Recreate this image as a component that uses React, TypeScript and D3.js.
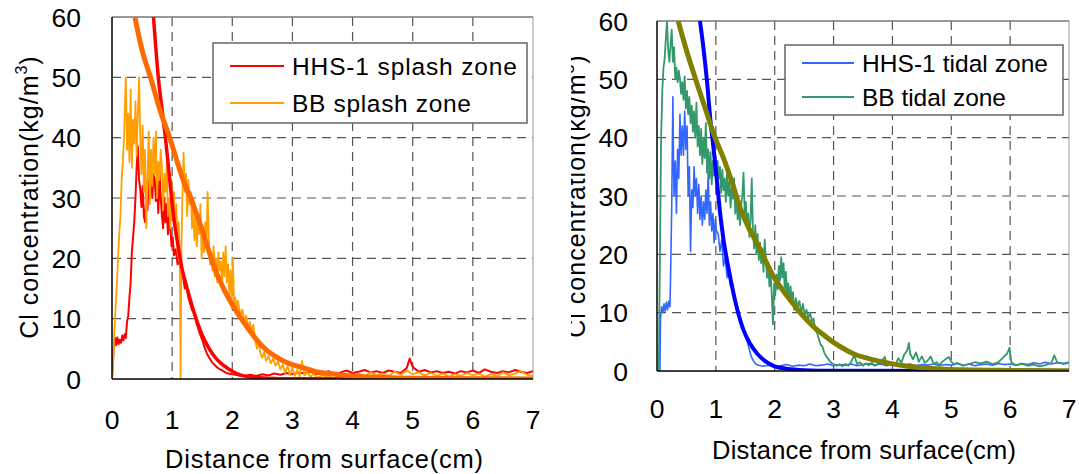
import React from 'react';
import * as d3 from 'd3';

type Pt = [number, number];

const xTicks = [0, 1, 2, 3, 4, 5, 6, 7];
const yTicks = [0, 10, 20, 30, 40, 50, 60];
const xTitle = 'Distance from surface(cm)';
const yTitle = 'Cl concentration(kg/m';

// splash zone (left)
const hhsSplash: Pt[] = [
  [0, 0], [0.03, 5.5], [0.05, 6.8], [0.07, 5.6], [0.09, 6.9], [0.11, 5.8], [0.13, 6.5], [0.15, 6.0], [0.17, 7.2],
  [0.19, 6.4], [0.21, 7.4], [0.23, 6.8], [0.25, 9.5], [0.27, 10.5], [0.29, 13.5], [0.31, 16], [0.33, 21], [0.35, 23.5],
  [0.37, 26], [0.39, 30], [0.41, 35], [0.43, 38.5], [0.45, 33], [0.47, 31.5], [0.49, 28.5], [0.51, 32], [0.53, 27],
  [0.55, 26], [0.57, 30], [0.59, 28], [0.61, 33], [0.63, 31], [0.65, 35.5], [0.67, 30], [0.69, 34], [0.71, 33],
  [0.73, 29.5], [0.75, 32], [0.77, 27.5], [0.79, 34.5], [0.81, 30], [0.83, 27], [0.85, 25], [0.87, 30], [0.89, 26],
  [0.91, 29], [0.93, 24], [0.95, 27], [0.97, 25], [0.99, 22], [1.01, 23.5], [1.03, 20.5], [1.06, 21.5], [1.09, 19],
  [1.12, 19.5], [1.15, 17.5], [1.18, 17], [1.21, 15], [1.24, 15.5], [1.27, 13.5], [1.3, 12.5], [1.33, 11.5],
  [1.36, 11], [1.4, 9.5], [1.43, 8.5], [1.46, 7.5], [1.5, 6.5], [1.54, 5.2], [1.58, 4.2], [1.62, 3.5], [1.66, 2.8],
  [1.7, 2.4], [1.75, 1.9], [1.8, 1.6], [1.85, 1.3], [1.9, 1.0], [2.0, 0.8], [2.1, 0.6], [2.2, 0.5], [2.3, 0.7],
  [2.4, 0.5], [2.5, 0.8], [2.6, 0.6], [2.7, 0.9], [2.8, 0.7], [2.9, 1.0], [3.0, 0.8], [3.1, 1.1], [3.2, 0.9],
  [3.3, 1.2], [3.4, 0.8], [3.5, 1.0], [3.6, 1.3], [3.7, 0.9], [3.8, 1.1], [3.9, 1.4], [4.0, 1.0], [4.1, 1.2],
  [4.2, 1.5], [4.3, 1.1], [4.4, 1.3], [4.5, 1.0], [4.6, 1.4], [4.7, 1.2], [4.8, 1.0], [4.9, 1.8], [4.95, 3.4],
  [5.0, 2.0], [5.05, 1.6], [5.1, 1.2], [5.2, 1.5], [5.3, 1.1], [5.4, 1.3], [5.5, 1.0], [5.6, 1.2], [5.7, 0.9],
  [5.8, 1.3], [5.9, 1.1], [6.0, 1.4], [6.1, 1.0], [6.2, 1.6], [6.3, 1.2], [6.4, 1.0], [6.5, 1.3], [6.6, 1.1],
  [6.7, 1.5], [6.8, 1.2], [6.9, 1.0], [7.0, 1.3],
];
const hhsSplashFit: Pt[] = [
  [0.69, 60], [0.77, 50], [0.84, 44], [0.91, 38], [0.97, 32], [1.03, 26.5], [1.1, 22], [1.16, 18.5], [1.25, 15],
  [1.35, 11.5], [1.49, 7.5], [1.6, 5.3], [1.74, 3.3], [1.85, 2.3], [2.0, 1.3], [2.13, 0.7], [2.3, 0.35], [2.6, 0.12],
  [3.0, 0.03], [7.0, 0],
];
const bbSplash: Pt[] = [
  [0, 0], [0.02, 3], [0.04, 8], [0.06, 12], [0.08, 15.5], [0.1, 20], [0.12, 24], [0.14, 27], [0.16, 33], [0.18, 36],
  [0.2, 40], [0.22, 47], [0.23, 50], [0.25, 38], [0.27, 44], [0.29, 36], [0.31, 48], [0.33, 35], [0.35, 43],
  [0.37, 39], [0.39, 46], [0.41, 37], [0.43, 44], [0.45, 50], [0.47, 40], [0.49, 34], [0.51, 42], [0.53, 31],
  [0.55, 38], [0.57, 25], [0.59, 33], [0.61, 41], [0.63, 29], [0.65, 38], [0.67, 32], [0.69, 40], [0.71, 34],
  [0.73, 41], [0.75, 30], [0.77, 36], [0.79, 33], [0.81, 38], [0.83, 35], [0.85, 28], [0.87, 34], [0.89, 31],
  [0.91, 36], [0.93, 27], [0.95, 30], [0.97, 25], [0.99, 33], [1.01, 28], [1.03, 31], [1.05, 24], [1.07, 29],
  [1.09, 21], [1.11, 26], [1.13, 18], [1.14, 0], [1.155, 22], [1.17, 30], [1.19, 37.5], [1.21, 31], [1.23, 34],
  [1.25, 27], [1.27, 33], [1.29, 29], [1.31, 31], [1.33, 25], [1.35, 28], [1.37, 23], [1.39, 27], [1.41, 22],
  [1.43, 26], [1.45, 24], [1.47, 29], [1.49, 20], [1.51, 24], [1.53, 21], [1.55, 26], [1.57, 22], [1.59, 31],
  [1.61, 23], [1.63, 19], [1.65, 21], [1.67, 18], [1.69, 22], [1.71, 17], [1.73, 20], [1.75, 16], [1.77, 21],
  [1.79, 18], [1.81, 19.5], [1.83, 15], [1.85, 21], [1.87, 17], [1.89, 22], [1.91, 16], [1.93, 19], [1.95, 14],
  [1.97, 18], [1.99, 13], [2.01, 20], [2.03, 12], [2.05, 13.5], [2.07, 11], [2.09, 13], [2.11, 12], [2.14, 10.5],
  [2.17, 11.5], [2.2, 9.5], [2.23, 10.5], [2.26, 8.5], [2.29, 9.5], [2.32, 8], [2.35, 9], [2.38, 6.5], [2.41, 5],
  [2.44, 6], [2.47, 4.2], [2.5, 3.5], [2.53, 4.5], [2.56, 3.0], [2.6, 3.8], [2.64, 2.6], [2.68, 3.4], [2.72, 2.2],
  [2.76, 2.9], [2.8, 1.6], [2.84, 2.4], [2.88, 1.0], [2.92, 2.2], [2.96, 0.6], [3.0, 1.8], [3.04, 0.5], [3.08, 1.5],
  [3.12, 0.4], [3.16, 3.0], [3.2, 0.6], [3.25, 1.2], [3.3, 0.3], [3.35, 0.9], [3.4, 0.2], [3.5, 0.6], [3.6, 0.3],
  [3.7, 0.8], [3.8, 0.4], [3.9, 0.7], [4.0, 0.3], [4.1, 0.9], [4.2, 0.5], [4.3, 1.1], [4.4, 0.6], [4.5, 0.9],
  [4.6, 0.5], [4.7, 1.2], [4.8, 0.7], [4.9, 1.4], [5.0, 0.8], [5.1, 1.1], [5.2, 0.6], [5.3, 1.0], [5.4, 0.5],
  [5.5, 0.9], [5.6, 0.4], [5.7, 0.8], [5.8, 0.5], [5.9, 1.0], [6.0, 0.6], [6.1, 0.9], [6.2, 0.4], [6.3, 0.8],
  [6.4, 0.5], [6.5, 1.1], [6.6, 0.6], [6.7, 0.9], [6.8, 1.3], [6.9, 0.7], [7.0, 0.5],
];
const bbSplashFit: Pt[] = [
  [0.38, 60], [0.5, 54.5], [0.64, 50], [0.8, 44.5], [0.96, 40], [1.1, 35.5], [1.2, 32.5], [1.31, 30], [1.4, 27.5],
  [1.49, 25], [1.6, 21.5], [1.74, 17.5], [1.88, 14.5], [2.02, 12], [2.15, 10], [2.29, 8], [2.43, 6.2], [2.57, 4.8],
  [2.71, 3.8], [2.85, 3.0], [3.0, 2.4], [3.13, 2.0], [3.4, 1.2], [3.62, 0.9], [4.0, 0.5], [4.5, 0.25], [5.0, 0.12],
  [6.0, 0.05], [7.0, 0.02],
];

// tidal zone (right)
const hhsTidal: Pt[] = [
  [0, 0], [0.05, 0], [0.06, 9], [0.08, 11], [0.1, 10], [0.12, 11.5], [0.14, 10.2], [0.16, 11.8], [0.18, 10.5],
  [0.2, 12], [0.22, 11], [0.23, 16], [0.25, 28], [0.26, 38], [0.27, 47], [0.28, 36], [0.29, 30], [0.31, 36],
  [0.33, 27], [0.35, 38], [0.37, 33], [0.39, 44], [0.41, 37], [0.43, 42], [0.45, 37], [0.47, 44.5], [0.49, 38],
  [0.51, 42], [0.53, 30], [0.55, 35], [0.57, 20.5], [0.59, 31], [0.61, 28], [0.63, 35], [0.65, 30], [0.67, 33],
  [0.69, 27], [0.71, 32], [0.73, 26], [0.75, 30], [0.77, 25], [0.79, 29], [0.81, 26], [0.83, 31], [0.85, 27],
  [0.87, 34], [0.89, 25], [0.91, 29], [0.93, 24], [0.95, 27], [0.97, 22], [0.99, 26], [1.01, 24], [1.04, 23.5],
  [1.07, 20.5], [1.1, 22.5], [1.13, 18], [1.16, 19.5], [1.19, 16], [1.22, 17.5], [1.25, 14.5], [1.28, 15],
  [1.31, 13], [1.34, 11.5], [1.37, 11], [1.4, 9.5], [1.44, 8], [1.48, 6.5], [1.52, 5.5], [1.56, 4], [1.6, 2.5],
  [1.64, 1.7], [1.68, 1.2], [1.72, 1.0], [1.8, 0.8], [1.9, 1.0], [2.0, 0.7], [2.1, 0.9], [2.2, 1.1], [2.3, 0.8],
  [2.4, 1.0], [2.5, 0.9], [2.6, 1.2], [2.7, 0.9], [2.8, 1.0], [2.9, 1.2], [3.0, 0.9], [3.1, 1.1], [3.2, 1.0],
  [3.3, 1.2], [3.4, 0.9], [3.5, 1.1], [3.6, 1.3], [3.7, 1.0], [3.8, 1.2], [3.9, 0.9], [4.0, 1.1], [4.1, 1.3],
  [4.2, 1.0], [4.3, 1.2], [4.4, 0.9], [4.5, 1.1], [4.6, 1.0], [4.7, 1.2], [4.8, 0.9], [4.9, 1.1], [5.0, 1.0],
  [5.1, 1.3], [5.2, 1.0], [5.3, 1.2], [5.4, 0.9], [5.5, 1.1], [5.6, 1.2], [5.7, 1.0], [5.8, 1.3], [5.9, 1.1],
  [6.0, 1.2], [6.1, 1.0], [6.2, 1.3], [6.3, 1.1], [6.4, 1.4], [6.5, 1.2], [6.6, 1.5], [6.7, 1.2], [6.8, 1.4],
  [6.9, 1.3], [7.0, 1.5],
];
const hhsTidalFit: Pt[] = [
  [0.73, 60], [0.79, 55.3], [0.85, 49.6], [0.91, 42.7], [0.96, 38.2], [1.02, 32.4], [1.07, 27.3], [1.13, 22.5],
  [1.21, 17.9], [1.3, 13.3], [1.38, 9.9], [1.47, 7], [1.58, 4.7], [1.7, 3.0], [1.85, 1.6], [2.0, 0.8], [2.2, 0.4],
  [2.5, 0.15], [3.0, 0.05], [7.0, 0],
];
const bbTidal: Pt[] = [
  [0, 0], [0.03, 0], [0.05, 20], [0.07, 40], [0.09, 48], [0.11, 52], [0.13, 53.5], [0.15, 57], [0.17, 60],
  [0.19, 55], [0.21, 53], [0.23, 56], [0.25, 58.5], [0.27, 53], [0.29, 55.5], [0.31, 50], [0.33, 52], [0.35, 49.5],
  [0.37, 51.5], [0.39, 50], [0.41, 47.5], [0.43, 49.5], [0.45, 46.5], [0.47, 50.5], [0.49, 45], [0.51, 48],
  [0.53, 44], [0.55, 47], [0.57, 42.5], [0.59, 45.5], [0.61, 41], [0.63, 44.5], [0.65, 40], [0.67, 46], [0.69, 38.5],
  [0.71, 42], [0.73, 37], [0.75, 41.5], [0.77, 35.5], [0.79, 40], [0.81, 36.5], [0.83, 42.5], [0.85, 34], [0.87, 38],
  [0.89, 33], [0.91, 37.5], [0.93, 32], [0.95, 36], [0.97, 33.5], [0.99, 37], [1.01, 31.5], [1.03, 36], [1.05, 33],
  [1.07, 35], [1.09, 30.5], [1.11, 34.5], [1.13, 31], [1.15, 33], [1.17, 29], [1.19, 34], [1.21, 30], [1.23, 32.5],
  [1.25, 28], [1.27, 31.5], [1.29, 29.5], [1.31, 33], [1.33, 27], [1.35, 30.5], [1.37, 26], [1.39, 29], [1.41, 25],
  [1.43, 28.5], [1.45, 30], [1.47, 34], [1.49, 27], [1.51, 29], [1.53, 24.5], [1.55, 27], [1.57, 23], [1.59, 26],
  [1.61, 33], [1.63, 24], [1.65, 21], [1.67, 25], [1.69, 20], [1.71, 23.5], [1.73, 19], [1.75, 22], [1.77, 18.5],
  [1.79, 21], [1.81, 17], [1.83, 22.5], [1.85, 19], [1.87, 16], [1.89, 18.5], [1.91, 14.5], [1.93, 17], [1.95, 13],
  [1.97, 8], [1.99, 15], [2.01, 13], [2.03, 16.5], [2.05, 14], [2.07, 18], [2.09, 15.5], [2.11, 19.5], [2.13, 16],
  [2.15, 18.5], [2.17, 14], [2.19, 17], [2.21, 13], [2.23, 15], [2.25, 12], [2.27, 14.5], [2.29, 11.5], [2.31, 13.5],
  [2.33, 10.5], [2.36, 12.5], [2.39, 11], [2.42, 12], [2.45, 10], [2.48, 11.5], [2.51, 9.5], [2.54, 10.5], [2.57, 9],
  [2.6, 10], [2.63, 8.5], [2.66, 9], [2.69, 7], [2.72, 6.5], [2.75, 5.5], [2.78, 4.5], [2.81, 4.2], [2.84, 3.2],
  [2.87, 2.6], [2.9, 2.2], [2.93, 1.8], [2.96, 1.4], [3.0, 1.2], [3.05, 0.9], [3.1, 1.1], [3.15, 0.8], [3.2, 1.2],
  [3.25, 0.9], [3.3, 1.6], [3.35, 2.7], [3.4, 1.2], [3.45, 1.5], [3.5, 0.9], [3.55, 1.3], [3.6, 1.0], [3.65, 1.4],
  [3.7, 0.9], [3.75, 1.2], [3.8, 1.5], [3.87, 2.4], [3.9, 1.2], [3.95, 1.0], [4.0, 1.3], [4.05, 1.0], [4.1, 2.2],
  [4.15, 1.4], [4.2, 2.8], [4.25, 3.5], [4.28, 4.8], [4.3, 3.0], [4.35, 2.0], [4.4, 3.2], [4.45, 1.6], [4.5, 2.5],
  [4.55, 1.4], [4.6, 1.8], [4.65, 2.5], [4.7, 1.2], [4.75, 1.5], [4.8, 1.0], [4.85, 1.6], [4.9, 2.0], [4.96, 2.4],
  [5.0, 1.6], [5.05, 1.1], [5.1, 1.4], [5.2, 0.9], [5.3, 1.2], [5.4, 1.5], [5.5, 1.3], [5.6, 1.6], [5.7, 1.2],
  [5.8, 1.5], [5.85, 2.0], [5.9, 2.5], [5.95, 3.0], [5.99, 4.0], [6.02, 1.5], [6.1, 1.0], [6.2, 1.2], [6.3, 0.9],
  [6.4, 1.1], [6.5, 0.8], [6.6, 1.0], [6.7, 1.4], [6.75, 2.7], [6.8, 1.5], [6.9, 1.2], [7.0, 1.4],
];
const bbTidalFit: Pt[] = [
  [0.36, 60], [0.5, 55], [0.65, 50.2], [0.82, 45], [0.99, 39.9], [1.13, 36.5], [1.27, 32.5], [1.42, 27.8],
  [1.56, 24.5], [1.7, 21.9], [1.84, 19], [1.98, 16.2], [2.12, 14.1], [2.26, 12.2], [2.4, 10.4], [2.55, 8.7],
  [2.69, 7.3], [2.83, 6.2], [2.97, 5.1], [3.11, 4.2], [3.25, 3.4], [3.4, 2.7], [3.54, 2.3], [3.68, 1.9], [3.82, 1.6],
  [3.96, 1.3], [4.2, 0.9], [4.46, 0.6], [4.8, 0.35], [5.2, 0.2], [6.0, 0.1], [7.0, 0.05],
];

const FONT = "'Liberation Sans', Arial, sans-serif";

type Series = { data: Pt[]; color: string; width: number; fit?: boolean };
type LegendItem = { label: string; color: string; len: number };

type PanelProps = {
  id: string;
  left: number;
  right: number;
  top: number;
  bottom: number;
  series: Series[];
  legend: { x: number; y: number; w: number; h: number; rows: number[]; lineX: number[]; textX: number; items: LegendItem[] };
  xLabelY: number;
  yLabelX: number;
  xTitle: { x: number; y: number; len: number };
  yTitle: { x: number; y: number; clipX?: number };
};

function Panel(p: PanelProps) {
  const x = d3.scaleLinear().domain([0, 7]).range([p.left, p.right]);
  const y = d3.scaleLinear().domain([0, 60]).range([p.bottom, p.top]);
  const rough = d3.line<Pt>().x((d) => x(d[0])).y((d) => y(d[1]));
  const smooth = d3.line<Pt>().x((d) => x(d[0])).y((d) => y(d[1])).curve(d3.curveMonotoneX);
  const clip = `clip-${p.id}`;
  const tclip = `tclip-${p.id}`;
  const lg = p.legend;

  return (
    <g fontFamily={FONT}>
      <defs>
        <clipPath id={clip}>
          <rect x={p.left} y={p.top} width={p.right - p.left} height={p.bottom - p.top} />
        </clipPath>
        {p.yTitle.clipX !== undefined && (
          <clipPath id={tclip}>
            <rect x={p.yTitle.clipX} y={0} width={200} height={474} />
          </clipPath>
        )}
      </defs>

      {/* grid */}
      {xTicks.slice(1, -1).map((t) => (
        <line key={'gx' + t} x1={x(t)} x2={x(t)} y1={p.top} y2={p.bottom} stroke="#555" strokeWidth={1.2} strokeDasharray="9,6" />
      ))}
      {yTicks.slice(1, -1).map((t) => (
        <line key={'gy' + t} x1={p.left} x2={p.right} y1={y(t)} y2={y(t)} stroke="#555" strokeWidth={1.2} strokeDasharray="9,6" />
      ))}
      <line x1={p.left} x2={p.right} y1={p.top} y2={p.top} stroke="#777" strokeWidth={1.5} />
      <line x1={p.right} x2={p.right} y1={p.top} y2={p.bottom} stroke="#999" strokeWidth={1} />

      {/* legend box */}
      <rect x={lg.x} y={lg.y} width={lg.w} height={lg.h} fill="#fff" stroke="#666" strokeWidth={1.5} />
      {lg.items.map((it, i) => (
        <g key={it.label}>
          <line x1={lg.lineX[0]} x2={lg.lineX[1]} y1={lg.rows[i]} y2={lg.rows[i]} stroke={it.color} strokeWidth={2} />
          <text x={lg.textX} y={lg.rows[i]} dy="0.36em" fontSize={24.5} textLength={it.len} lengthAdjust="spacing">
            {it.label}
          </text>
        </g>
      ))}

      {/* data */}
      <g clipPath={`url(#${clip})`}>
        {p.series.map((s, i) => (
          <path key={i} d={(s.fit ? smooth : rough)(s.data) || ''} fill="none" stroke={s.color} strokeWidth={s.width} strokeLinejoin="round" />
        ))}
      </g>

      {/* axes */}
      <line x1={p.left} x2={p.left} y1={p.top} y2={p.bottom} stroke="#000" strokeWidth={1.5} />
      <line x1={p.left} x2={p.right} y1={p.bottom} y2={p.bottom} stroke="#000" strokeWidth={1.5} />

      {yTicks.map((t) => (
        <text key={'ty' + t} x={p.yLabelX} y={y(t)} dy="0.36em" textAnchor="end" fontSize={26.5}>
          {t}
        </text>
      ))}
      {xTicks.map((t) => (
        <text key={'tx' + t} x={x(t)} y={p.xLabelY} textAnchor="middle" fontSize={26.5}>
          {t}
        </text>
      ))}
      <text x={p.xTitle.x} y={p.xTitle.y} textAnchor="middle" fontSize={25.5} textLength={p.xTitle.len} lengthAdjust="spacing">
        {xTitle}
      </text>
      <g clipPath={p.yTitle.clipX !== undefined ? `url(#${tclip})` : undefined}>
        <text transform={`translate(${p.yTitle.x},${p.yTitle.y}) rotate(-90)`} textAnchor="middle" fontSize={25} letterSpacing={1}>
          {yTitle}
          <tspan dy={-11} fontSize={16}>3</tspan>
          <tspan dy={11}>)</tspan>
        </text>
      </g>
    </g>
  );
}

export default function App() {
  return (
    <svg width={1079} height={474} style={{ position: 'absolute', left: 0, top: 0, background: '#fff' }}>
      <rect width={1079} height={474} fill="#fff" />
      <Panel
        id="splash"
        left={112}
        right={533}
        top={17}
        bottom={379}
        series={[
          { data: hhsSplash, color: '#ff0000', width: 2 },
          { data: bbSplash, color: '#ffa000', width: 1.8 },
          { data: hhsSplashFit, color: '#ff0000', width: 3.5, fit: true },
          { data: bbSplashFit, color: '#ff6a00', width: 5, fit: true },
        ]}
        legend={{
          x: 213, y: 43, w: 314, h: 80, rows: [66, 103], lineX: [230, 284], textX: 292,
          items: [
            { label: 'HHS-1 splash zone', color: '#ff0000', len: 225 },
            { label: 'BB splash zone', color: '#ffa000', len: 179 },
          ],
        }}
        xLabelY={429}
        yLabelX={81}
        xTitle={{ x: 324, y: 468, len: 318 }}
        yTitle={{ x: 38, y: 197 }}
      />
      <Panel
        id="tidal"
        left={657}
        right={1069}
        top={21}
        bottom={371}
        series={[
          { data: hhsTidal, color: '#3366ff', width: 1.6 },
          { data: bbTidal, color: '#33996a', width: 1.8 },
          { data: hhsTidalFit, color: '#0000ff', width: 4, fit: true },
          { data: bbTidalFit, color: '#808000', width: 5, fit: true },
        ]}
        legend={{
          x: 785, y: 45, w: 278, h: 70, rows: [63, 97], lineX: [802, 854], textX: 862,
          items: [
            { label: 'HHS-1 tidal zone', color: '#3366ff', len: 186 },
            { label: 'BB tidal zone', color: '#33996a', len: 144 },
          ],
        }}
        xLabelY={418}
        yLabelX={628}
        xTitle={{ x: 864, y: 459, len: 304 }}
        yTitle={{ x: 585, y: 196, clipX: 571 }}
      />
    </svg>
  );
}
